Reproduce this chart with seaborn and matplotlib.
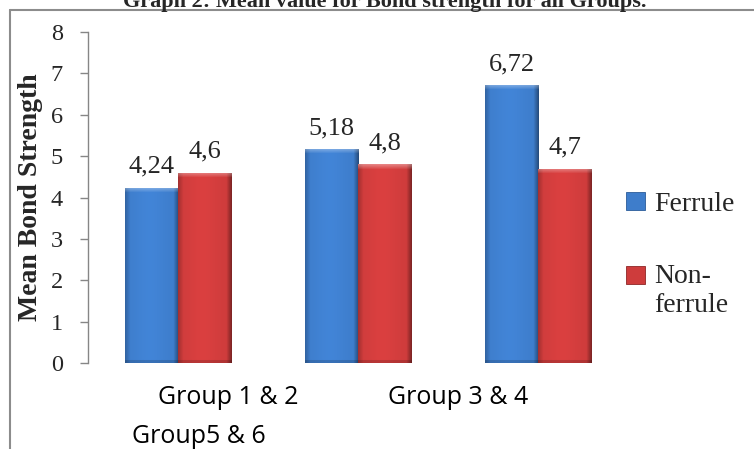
import matplotlib
matplotlib.use("Agg")
import matplotlib.pyplot as plt
import seaborn as sns
import pandas as pd
import numpy as np
from matplotlib.patches import Patch, Rectangle
from matplotlib.lines import Line2D
from matplotlib.legend_handler import HandlerPatch

# ---- data ----
groups = ["Group 1 & 2", "Group 3 & 4", "Group5 & 6"]
series = ["Ferrule", "Non-ferrule"]
legend_labels = ["Ferrule", "Non-\nferrule"]
ferrule = [4.24, 5.18, 6.72]
non_ferrule = [4.6, 4.8, 4.7]
ferrule_text = ["4,24", "5,18", "6,72"]
non_ferrule_text = ["4,6", "4,8", "4,7"]
yticks = [0, 1, 2, 3, 4, 5, 6, 7, 8]
title = "Graph 2: Mean value for Bond strength for all Groups."
ylabel = "Mean Bond Strength"

df = pd.DataFrame({
    "group": groups * 2,
    "series": [series[0]] * len(groups) + [series[1]] * len(groups),
    "value": ferrule + non_ferrule,
})

BLUE = "#3E7DCB"
RED = "#CE3C3C"

sns.set_style("white")
plt.rcParams["font.family"] = ["Liberation Serif", "DejaVu Serif"]

W, H = 754, 449
fig = plt.figure(figsize=(W / 100, H / 100), dpi=100)
fig.patch.set_facecolor("white")

ax_left, ax_right, ax_top, ax_bottom = 88, 628, 32, 363
ax = fig.add_axes([ax_left / W, 1 - ax_bottom / H, (ax_right - ax_left) / W, (ax_bottom - ax_top) / H])

sns.barplot(data=df, x="group", y="value", hue="series", order=groups,
            hue_order=series, palette=[BLUE, RED], width=0.59, saturation=1,
            errorbar=None, legend=False, ax=ax, linewidth=0, zorder=2)

ax.set_xlim(-0.5, len(groups) - 0.5)
ax.set_ylim(0, 8)


def bevel_image(color, wpx, hpx, bev=5):
    base = np.array(matplotlib.colors.to_rgb(color))
    img = np.ones((hpx, wpx, 3)) * base
    xs = np.arange(wpx)
    ys = np.arange(hpx)
    shade = np.ones(wpx)
    left = xs < bev
    right = xs >= wpx - bev
    shade[left] = 0.80 + 0.2 * xs[left] / bev
    shade[right] = 1.0 - 0.38 * (xs[right] - (wpx - bev) + 1) / bev
    img = img * shade[None, :, None]
    centre = 1 + 0.06 * np.exp(-((xs - wpx * 0.45) / (wpx * 0.3)) ** 2)
    img = img * centre[None, :, None]
    top = ys < bev
    light = np.zeros(hpx)
    light[top] = 0.35 * (1 - ys[top] / bev)
    img = img + (1 - img) * light[:, None, None]
    bot = ys >= hpx - 3
    img[bot] = img[bot] * 0.85
    return np.clip(img, 0, 1)


fig.canvas.draw()
for p, col in zip(ax.patches, [BLUE] * len(groups) + [RED] * len(groups)):
    bb = p.get_bbox()
    disp = ax.transData.transform([[bb.x0, bb.y0], [bb.x1, bb.y1]])
    wpx = max(int(abs(disp[1, 0] - disp[0, 0])), 2)
    hpx = max(int(abs(disp[1, 1] - disp[0, 1])), 2)
    img = bevel_image(col, wpx, hpx)
    im = ax.imshow(img, extent=[bb.x0, bb.x1, bb.y0, bb.y1], aspect="auto",
                   origin="upper", zorder=3, interpolation="bilinear")
    im.set_clip_path(p)

ax.set_xlim(-0.5, len(groups) - 0.5)
ax.set_ylim(0, 8)

ax.bar_label(ax.containers[0], labels=ferrule_text, padding=7, fontsize=19, zorder=5)
ax.bar_label(ax.containers[1], labels=non_ferrule_text, padding=7, fontsize=19, zorder=5)

for s in ["top", "right", "bottom"]:
    ax.spines[s].set_visible(False)
ax.spines["left"].set_color("#868686")
ax.spines["left"].set_linewidth(1.0)
ax.set_yticks(yticks)
ax.set_yticklabels([str(t) for t in yticks])
ax.tick_params(axis="y", direction="out", length=6, width=1, color="#868686",
               labelsize=17.5, pad=12, left=True)
ax.set_xticks([])
ax.set_xlabel("")
ax.set_ylabel("")
ax.grid(False)

# category labels (Excel-style staggered)
cat_pos = [(228, 404), (458, 404), (199, 443)]
for lab, (cx, cy) in zip(groups, cat_pos):
    fig.text(cx / W, 1 - cy / H, lab, ha="center", va="baseline",
             fontsize=18, family=["Open Sans", "DejaVu Sans"], color="black")

fig.text(31 / W, 1 - 197 / H, ylabel, rotation=90, ha="center", va="center",
         fontsize=20, fontweight="bold")

# title (partly cut off at the top, as in the reference)
fig.text(385 / W, 1 - 7 / H, title, ha="center", va="baseline",
         fontsize=16, fontweight="bold")

# outer frame (left & top edges)
fig.add_artist(Line2D([10 / W, 10 / W], [0, 1 - 10 / H], transform=fig.transFigure,
                      color="#8C8C8C", linewidth=1.5))
fig.add_artist(Line2D([10 / W, 1], [1 - 10 / H, 1 - 10 / H], transform=fig.transFigure,
                      color="#8C8C8C", linewidth=1.5))

# legend
LEG_FS = 20
LINE = 1.2 * LEG_FS


def first_line_square(legend, orig_handle, xdescent, ydescent, width, height, fontsize):
    return Rectangle((-xdescent, -ydescent + LINE * 0.47), width, height)


handles = [Patch(facecolor=BLUE, edgecolor="#2B5C99", linewidth=0.6),
           Patch(facecolor=RED, edgecolor="#8E2626", linewidth=0.6)]
ax.legend(handles=handles, labels=legend_labels, loc="upper left",
          bbox_to_anchor=(626 / W, 1 - 192 / H), bbox_transform=fig.transFigure,
          frameon=False, prop={"family": "Liberation Serif", "size": LEG_FS},
          handlelength=0.7, handleheight=0.6, handletextpad=0.3,
          labelspacing=1.7, borderpad=0, borderaxespad=0,
          handler_map={handles[1]: HandlerPatch(patch_func=first_line_square)})

fig.savefig("out.png", dpi=100)
